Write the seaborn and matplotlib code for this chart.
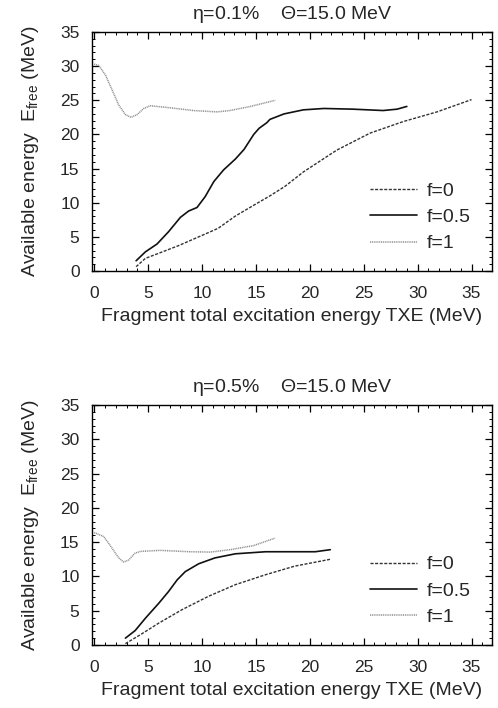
import numpy as np
import pandas as pd
import matplotlib
matplotlib.use("Agg")
import matplotlib.pyplot as plt
import seaborn as sns
from matplotlib.ticker import MultipleLocator

# ---- data: top panel (eta = 0.1%) ----
top_f0_x = [3.89, 4.75, 6.0, 7.8, 9.7, 11.5, 13.1, 15.2, 16.3, 17.7, 19.4, 22.5, 25.6, 28.7, 31.8, 35.0]
top_f0_y = [0.63, 1.85, 2.6, 3.7, 5.0, 6.25, 8.05, 10.0, 11.0, 12.4, 14.5, 17.7, 20.2, 21.9, 23.3, 25.1]
top_f05_x = [3.89, 4.75, 5.83, 6.9, 8.0, 8.76, 9.54, 10.3, 11.1, 12.0, 13.1, 13.9, 14.8, 15.3,
             16.0, 16.3, 17.6, 19.4, 21.3, 24.0, 26.8, 28.1, 29.0]
top_f05_y = [1.5, 2.8, 3.95, 5.75, 7.86, 8.78, 9.3, 10.9, 13.1, 14.8, 16.4, 17.8, 20.0, 20.9,
             21.7, 22.2, 23.0, 23.6, 23.8, 23.7, 23.5, 23.7, 24.1]
top_f1_x = [0.0, 0.43, 1.05, 1.67, 2.28, 2.9, 3.42, 3.98, 4.6, 5.2, 7.06, 9.2, 11.4, 12.6, 14.5, 16.8]
top_f1_y = [30.3, 30.1, 28.7, 26.5, 24.3, 22.9, 22.5, 22.9, 23.8, 24.2, 23.9, 23.5, 23.3, 23.5, 24.1, 25.0]

# ---- data: bottom panel (eta = 0.5%) ----
bot_f0_x = [2.9, 3.36, 4.44, 6.0, 8.15, 10.6, 13.1, 15.9, 18.6, 21.9]
bot_f0_y = [0.2, 0.63, 1.65, 3.2, 5.15, 7.1, 8.8, 10.25, 11.5, 12.5]
bot_f05_x = [2.9, 3.8, 4.75, 6.0, 6.9, 7.7, 8.45, 9.7, 11.2, 13.1, 15.9, 19.3, 20.5, 21.9]
bot_f05_y = [1.0, 2.1, 3.9, 6.1, 7.8, 9.5, 10.7, 11.85, 12.7, 13.3, 13.6, 13.6, 13.6, 13.9]
bot_f1_x = [0.0, 0.9, 1.67, 2.28, 2.74, 3.2, 3.8, 4.3, 6.1, 8.9, 10.8, 12.6, 14.8, 16.8]
bot_f1_y = [16.4, 15.8, 14.1, 12.7, 12.1, 12.4, 13.4, 13.65, 13.8, 13.6, 13.55, 13.9, 14.5, 15.6]

labels = ["f=0", "f=0.5", "f=1"]
titles = [r"$\mathregular{\eta}$=0.1%    $\mathregular{\Theta}$=15.0 MeV",
          r"$\mathregular{\eta}$=0.5%    $\mathregular{\Theta}$=15.0 MeV"]
x_ticks = [0, 5, 10, 15, 20, 25, 30, 35]
y_ticks = [0, 5, 10, 15, 20, 25, 30, 35]

sns.set_style("ticks")
plt.rcParams["font.family"] = ["Liberation Sans", "DejaVu Sans"]
plt.rcParams["mathtext.fontset"] = "custom"
plt.rcParams["mathtext.rm"] = "Liberation Sans"
plt.rcParams["mathtext.it"] = "Liberation Sans:italic"

def build(xs, ys):
    frames = []
    for lab, x, y in zip(labels, xs, ys):
        frames.append(pd.DataFrame({"x": x, "y": y, "f": lab}))
    return pd.concat(frames, ignore_index=True)

panels = [
    build([top_f0_x, top_f05_x, top_f1_x], [top_f0_y, top_f05_y, top_f1_y]),
    build([bot_f0_x, bot_f05_x, bot_f1_x], [bot_f0_y, bot_f05_y, bot_f1_y]),
]

W, H = 498, 708
fig = plt.figure(figsize=(W / 100, H / 100), dpi=100)
ax_rects = [(92, 32, 492, 271), (92, 405, 492, 645)]

palette = {"f=0": "#333333", "f=0.5": "#111111", "f=1": "#8f8f8f"}
styles = {"f=0": (0, (2.2, 1.1)), "f=0.5": "-", "f=1": (0, (0.7, 0.5))}
widths = {"f=0": 1.0, "f=0.5": 1.2, "f=1": 1.1}

FS = 14
for i, (df, (l, t, r, b)) in enumerate(zip(panels, ax_rects)):
    ax = fig.add_axes([l / W, 1 - b / H, (r - l) / W, (b - t) / H])
    for lab in labels:
        sub = df[df["f"] == lab]
        sns.lineplot(data=sub, x="x", y="y", ax=ax, color=palette[lab],
                     linestyle=styles[lab], linewidth=widths[lab], label=lab,
                     estimator=None, sort=False)
    ax.set_xlim(-0.2, 36.9)
    ax.set_ylim(0, 35)
    ax.set_xticks(x_ticks)
    ax.set_yticks(y_ticks)
    ax.xaxis.set_minor_locator(MultipleLocator(1))
    ax.yaxis.set_minor_locator(MultipleLocator(1))
    ax.tick_params(which="both", direction="in", top=True, right=True,
                   labelsize=12.5, color="black")
    ax.tick_params(which="major", length=5, width=0.9)
    ax.tick_params(axis="y", which="major", pad=9)
    ax.tick_params(axis="x", which="major", pad=11)
    ax.tick_params(which="minor", length=2.5, width=0.7)
    for s in ax.spines.values():
        s.set_linewidth(1.0)
        s.set_color("black")
    ax.set_xlabel("Fragment total excitation energy TXE (MeV)", fontsize=FS, labelpad=5)
    ax.set_ylabel(r"Available energy  E$_{\mathregular{free}}$ (MeV)", fontsize=FS, labelpad=14)
    ax.set_title(titles[i], fontsize=FS, pad=9)
    leg = ax.legend(loc="upper left", frameon=False, fontsize=FS,
                    handlelength=2.4, handletextpad=0.5, labelspacing=0.45,
                    borderpad=0, borderaxespad=0,
                    bbox_to_anchor=(0.695, 0.372))

fig.savefig("out.png", dpi=100)
